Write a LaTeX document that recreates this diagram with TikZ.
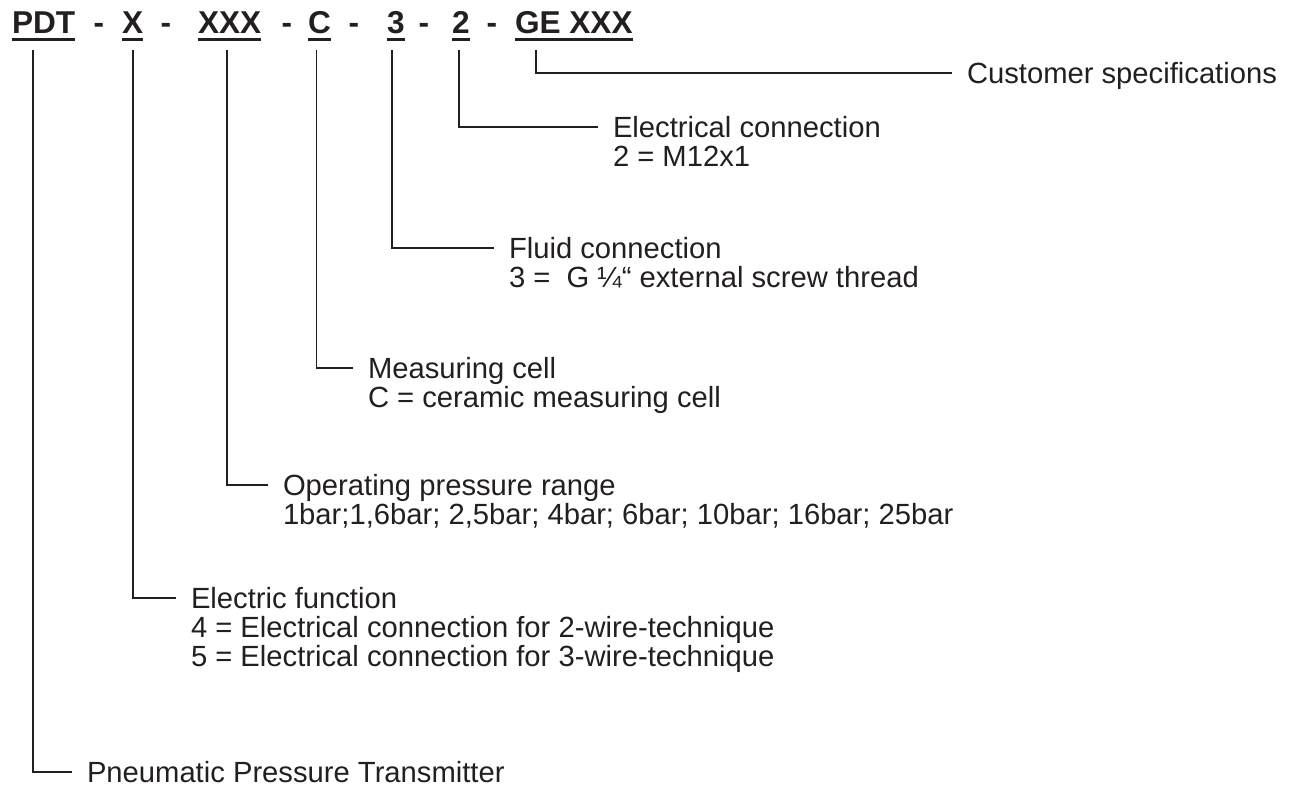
\documentclass[tikz,border=0pt]{standalone}
\usepackage{fontspec}
\setmainfont{Liberation Sans}
\newcommand*{\headfont}{\fontsize{15.8pt}{18pt}\selectfont\bfseries}
\newcommand*{\lblfont}{\fontsize{14.6pt}{17pt}\selectfont}
\definecolor{ink}{cmyk}{0.00,0.00,0.00,1.00}
\usepackage{tikz}
\usetikzlibrary{positioning}
\tikzstyle{sheet}=[x=0.5pt, y=-0.5pt]
\tikzstyle{code}=[ink, inner sep=0pt, outer xsep=0pt, outer ysep=8.5pt, text depth=0pt, font=\headfont, anchor=base west]
\tikzstyle{sep}=[ink, inner sep=0pt, font=\headfont, anchor=base]
\tikzstyle{ul}=[ink, line width=1.5pt]
\tikzstyle{lead}=[ink, line width=0.9pt]
\tikzstyle{lbl}=[ink, inner sep=0pt, outer xsep=7.5pt, text height=10.4pt, text depth=0pt, font=\lblfont, anchor=base west]

\begin{document}
\begin{tikzpicture}[sheet]
    \useasboundingbox (0,0) rectangle (1292,788);
    % order code
    \node [code] (pdt) at (12,33) {PDT};
    \node [sep] (s1) at (99,33) {-};
    \node [code] (x) at (122,33) {X};
    \node [sep] (s2) at (166,33) {-};
    \node [code] (xxx) at (198,33) {XXX};
    \node [sep] (s3) at (287,33) {-};
    \node [code] (c) at (308,33) {C};
    \node [sep] (s4) at (354,33) {-};
    \node [code] (three) at (387,33) {3};
    \node [sep] (s5) at (424,33) {-};
    \node [code] (two) at (452,33) {2};
    \node [sep] (s6) at (492,33) {-};
    \node [code] (ge) at (515,33) {GE XXX};
    \foreach \n in {pdt,x,xxx,c,three,two,ge}
        \draw [ul] ([yshift=-3pt]\n.base west) -- ([yshift=-3pt]\n.base east);

    % descriptions
    \node [lbl] (cust) at (952,83.4) {Customer specifications};
    \node [lbl] (elec) at (598,137.4) {Electrical connection};
    \node [lbl] (elec2) at ([yshift=-14.5pt]elec.base west) {2 = M12x1};
    \node [lbl] (fluid) at (494,258.4) {Fluid connection};
    \node [lbl] (fluid2) at ([yshift=-14.5pt]fluid.base west) {3 =\ \ G ¼“ external screw thread};
    \node [lbl] (cell) at (353,378.4) {Measuring cell};
    \node [lbl] (cell2) at ([yshift=-14.5pt]cell.base west) {C = ceramic measuring cell};
    \node [lbl] (range) at (268,495.4) {Operating pressure range};
    \node [lbl] (range2) at ([yshift=-14.5pt]range.base west) {1bar;1,6bar; 2,5bar; 4bar; 6bar; 10bar; 16bar; 25bar};
    \node [lbl] (func) at (176,608.4) {Electric function};
    \node [lbl] (func2) at ([yshift=-14.5pt]func.base west) {4 = Electrical connection for 2-wire-technique};
    \node [lbl] (func3) at ([yshift=-14.5pt]func2.base west) {5 = Electrical connection for 3-wire-technique};
    \node [lbl] (pneu) at (72,782.4) {Pneumatic Pressure Transmitter};

    % leads
    \draw [lead] ([xshift=10.5pt]pdt.south west) |- (pneu.west);
    \draw [lead] ([xshift=5.5pt]x.south west) |- (func.west);
    \draw [lead] ([xshift=14.5pt]xxx.south west) |- (range.west);
    \draw [lead] ([xshift=4.25pt]c.south west) |- (cell.west);
    \draw [lead] ([xshift=2.5pt]three.south west) |- (fluid.west);
    \draw [lead] ([xshift=3.5pt]two.south west) |- (elec.west);
    \draw [lead] ([xshift=10.5pt]ge.south west) |- (cust.west);
\end{tikzpicture}
\end{document}
